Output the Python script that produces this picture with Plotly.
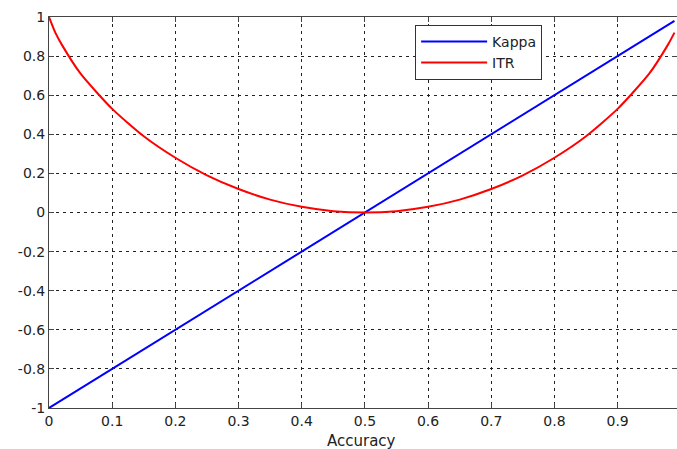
import plotly.graph_objects as go

acc_kappa = [0.0, 0.1, 0.2, 0.3, 0.4, 0.5, 0.6, 0.7, 0.8, 0.9, 0.99]
kappa = [-1.0, -0.8, -0.6, -0.4, -0.2, 0.0, 0.2, 0.4, 0.6, 0.8, 0.98]

acc_itr = [0.0, 0.01, 0.02, 0.05, 0.1, 0.15, 0.2, 0.25, 0.3, 0.35, 0.4, 0.45, 0.5,
           0.55, 0.6, 0.65, 0.7, 0.75, 0.8, 0.85, 0.9, 0.95, 0.98, 0.99]
itr = [1.0, 0.92, 0.86, 0.71, 0.53, 0.39, 0.28, 0.19, 0.12, 0.066, 0.029, 0.007, 0.0,
       0.007, 0.029, 0.066, 0.12, 0.19, 0.28, 0.39, 0.53, 0.71, 0.86, 0.92]

xticks = [0, 0.1, 0.2, 0.3, 0.4, 0.5, 0.6, 0.7, 0.8, 0.9]
yticks = [-1, -0.8, -0.6, -0.4, -0.2, 0, 0.2, 0.4, 0.6, 0.8, 1]

fig = go.Figure()
fig.add_trace(go.Scatter(x=acc_kappa, y=kappa, mode="lines", name="Kappa",
                         line=dict(color="#0000ff", width=2)))
fig.add_trace(go.Scatter(x=acc_itr, y=itr, mode="lines", name="ITR",
                         line=dict(color="#ff0000", width=2, shape="spline", smoothing=0.6)))

font = dict(family="DejaVu Sans, sans-serif", size=14, color="#222222")
axis_common = dict(showline=True, linecolor="#444444", linewidth=1, mirror="ticks",
                   ticks="inside", ticklen=5, tickcolor="#444444",
                   showgrid=True, gridcolor="#222222", gridwidth=1, griddash="3px,4px",
                   zeroline=False, tickfont=font, automargin=False)

fig.update_layout(
    width=677, height=449,
    margin=dict(l=49, r=0, t=17, b=41),
    paper_bgcolor="white", plot_bgcolor="white",
    font=font,
    xaxis=dict(range=[0, 0.994], tickvals=xticks, ticktext=["%g" % v for v in xticks], **axis_common),
    yaxis=dict(range=[-1, 1], tickvals=yticks, ticktext=["%g" % v for v in yticks], **axis_common),
    legend=dict(x=0.583, y=0.98, xanchor="left", yanchor="top",
                bgcolor="white", bordercolor="#333333", borderwidth=1,
                font=dict(family="DejaVu Sans, sans-serif", size=14, color="#222222"),
                itemwidth=66, entrywidth=141, entrywidthmode="pixels",
                tracegroupgap=0),
    showlegend=True,
    annotations=[dict(text="Accuracy", xref="paper", yref="paper", x=0.498, y=0,
                      xanchor="center", yanchor="top", yshift=-22, showarrow=False,
                      font=dict(family="DejaVu Sans, sans-serif", size=15, color="#222222"))],
)
fig.write_html("out.html", config={"displayModeBar": False},
               post_script="document.body.style.margin='0';document.body.style.overflow='hidden';")
